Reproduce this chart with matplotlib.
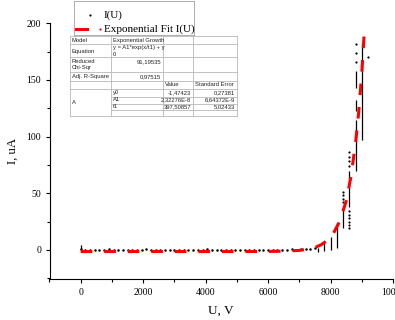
import matplotlib
matplotlib.use("Agg")
import matplotlib.pyplot as plt
from matplotlib.lines import Line2D

# --- Дані I(U) ---
base_u = [0, 150, 300, 450, 600, 750, 900, 1050, 1200, 1350, 1500, 1650, 1800,
          1950, 2100, 2250, 2400, 2550, 2700, 2850, 3000, 3150, 3300, 3450,
          3600, 3750, 3900, 4050, 4200, 4350, 4500, 4650, 4800, 4950, 5100,
          5250, 5400, 5550, 5700, 5850, 6000, 6150, 6300, 6450, 6600, 6750,
          6900, 7050, 7200, 7350, 7500]
base_i = [0.5, 0.2, -0.3, 0.3, 0.0, -0.2, 0.4, 0.1, -0.3, 0.2, 0.0, 0.3, -0.2,
          0.1, 0.4, -0.1, 0.2, 0.0, -0.3, 0.3, 0.1, -0.2, 0.2, 0.0, 0.3, -0.1,
          0.1, 0.4, -0.2, 0.2, 0.0, 0.3, -0.3, 0.1, 0.2, -0.1, 0.3, 0.0, -0.2,
          0.2, 0.1, 0.3, -0.1, 0.2, 0.0, 0.4, 0.1, 0.5, 0.8, 1.0, 1.2]

# вертикальні серії вимірювань при одній напрузі (мін / макс)
col_u = [0, 7600, 7800, 8000, 8200, 8400, 8600, 8800, 8800, 8800, 9000]
col_lo = [-1, -1.5, -1, 0, 2, 19, 38, 70, 123, 143, 97]
col_hi = [4, 2, 6, 11.5, 24, 37, 70, 115, 132, 158, 182]

# окремі точки
dot_u = [8400, 8400, 8400, 8400, 8600, 8600, 8600, 8600, 8600, 8600, 8600,
         8600, 8600, 8600, 8800, 8800, 8800, 9200]
dot_i = [42, 45, 48, 51, 19, 22, 25, 28, 31, 34, 74, 78, 82, 86, 166, 174,
         182, 170]

# --- Експоненційна апроксимація ---
fit_u = [0, 1000, 2000, 3000, 4000, 5000, 6000, 6500, 7000, 7300, 7500, 7700,
         7900, 8100, 8300, 8500, 8650, 8800, 8900, 9000, 9080]
fit_i = [-1.5, -1.5, -1.5, -1.5, -1.5, -1.5, -1.4, -1.2, -0.5, 0.7, 2.1, 4.5,
         8.4, 15, 25.6, 43, 64, 94, 121, 156, 192]

W, H = 395, 320
fig = plt.figure(figsize=(W / 100, H / 100), dpi=100)
ax = fig.add_axes([49.5 / W, (H - 279.3) / H, (393 - 49.5) / W, (279.3 - 23.3) / H])

ax.plot(base_u, base_i, "o", color="black", ms=1.8, mew=0)
ax.vlines(col_u, col_lo, col_hi, color="black", lw=0.9)
ax.plot(dot_u, dot_i, "o", color="black", ms=1.6, mew=0)
ax.plot(fit_u, fit_i, color="red", lw=2.2, dashes=(3.8, 3.9),
        dash_capstyle="butt")

ax.set_xlim(-1000, 10000)
ax.set_ylim(-26, 200)
ax.set_xticks([0, 2000, 4000, 6000, 8000, 10000])
ax.set_xticks(range(-1000, 10001, 1000), minor=True)
ax.set_yticks([0, 50, 100, 150, 200])
ax.set_yticks(range(-25, 201, 25), minor=True)
for s in ["top", "right"]:
    ax.spines[s].set_visible(False)
for s in ["left", "bottom"]:
    ax.spines[s].set_linewidth(0.8)

serif = "Liberation Serif"
ax.tick_params(which="major", direction="out", length=3.1, width=0.8,
               labelsize=7, pad=3)
ax.tick_params(which="minor", direction="out", length=1.9, width=0.8)
for lab in ax.get_xticklabels() + ax.get_yticklabels():
    lab.set_fontfamily(serif)

ax.set_xlabel("U, V", fontsize=9.5, family=serif)
ax.set_ylabel("I, uA", fontsize=9.2, family=serif)
ax.xaxis.set_label_coords(0.5, (279.3 - 311) / 256)
ax.xaxis.label.set_va("center")
ax.yaxis.set_label_coords((13 - 49.5) / 343.5, 0.5)
ax.yaxis.label.set_va("center")


def fx(px):
    return px / W


def fy(py):
    return 1 - py / H


def hline(x0, x1, y, c="#b8b8b8", lw=0.6):
    fig.add_artist(Line2D([fx(x0), fx(x1)], [fy(y), fy(y)], color=c, lw=lw))


def vline(x, y0, y1, c="#b8b8b8", lw=0.6):
    fig.add_artist(Line2D([fx(x), fx(x)], [fy(y0), fy(y1)], color=c, lw=lw))


# --- Легенда ---
hline(74, 194, 1, c="#a0a0a0")
hline(74, 194, 35, c="#a0a0a0")
vline(74, 1, 35, c="#a0a0a0")
vline(194, 1, 35, c="#a0a0a0")
fig.add_artist(Line2D([fx(90)], [fy(15)], marker="o", ms=1.6, color="black",
                      mew=0, lw=0))
fig.text(fx(104), fy(15), "I(U)", fontsize=8, family=serif, va="center")
fig.add_artist(Line2D([fx(76), fx(87)], [fy(29), fy(29)], color="red", lw=2.2))
fig.add_artist(Line2D([fx(100)], [fy(29)], marker="o", ms=1.6, color="red",
                      mew=0, lw=0))
fig.text(fx(104), fy(29), "Exponential Fit I(U)", fontsize=8, family=serif,
         va="center")

# --- Таблиця параметрів ---
cols = [70, 111, 163, 193, 237]
rows = [35.7, 44, 57, 71.5, 81, 89]
sub_rows = [96.5, 103.5, 110]
bottom = 115.7
for y in rows + [bottom]:
    hline(cols[0], cols[-1], y)
for y in sub_rows:
    hline(cols[1], cols[-1], y)
for x in cols:
    vline(x, rows[0], bottom)

ts = dict(fontsize=4.2, family="Liberation Sans", va="center", color="#222222")
fig.text(fx(72), fy(40.5), "Model", **ts)
fig.text(fx(112.5), fy(40.5), "Exponential Growth", **ts)
fig.text(fx(72), fy(51.5), "Equation", **ts)
fig.text(fx(112.5), fy(48), "y = A1*exp(x/t1) + y", **ts)
fig.text(fx(112.5), fy(54), "0", **ts)
fig.text(fx(72), fy(61.5), "Reduced", **ts)
fig.text(fx(72), fy(67.2), "Chi-Sqr", **ts)
fig.text(fx(161.5), fy(62), "91,19535", ha="right", **ts)
fig.text(fx(72), fy(76.5), "Adj. R-Square", **ts)
fig.text(fx(161.5), fy(76.5), "0,97515", ha="right", **ts)
fig.text(fx(165), fy(85), "Value", **ts)
fig.text(fx(195), fy(85), "Standard Error", **ts)
fig.text(fx(72), fy(102.3), "A", **ts)

par_names = ["y0", "A1", "t1"]
par_values = ["-1,47423", "2,32276E-8", "397,50857"]
par_errors = ["0,27381", "6,64372E-9", "5,02433"]
for k, (n, v, e) in enumerate(zip(par_names, par_values, par_errors)):
    yy = 92.8 + 7 * k
    fig.text(fx(112.5), fy(yy), n, **ts)
    fig.text(fx(191), fy(yy), v, ha="right", **ts)
    fig.text(fx(235), fy(yy), e, ha="right", **ts)

fig.savefig("out.png", dpi=100)
